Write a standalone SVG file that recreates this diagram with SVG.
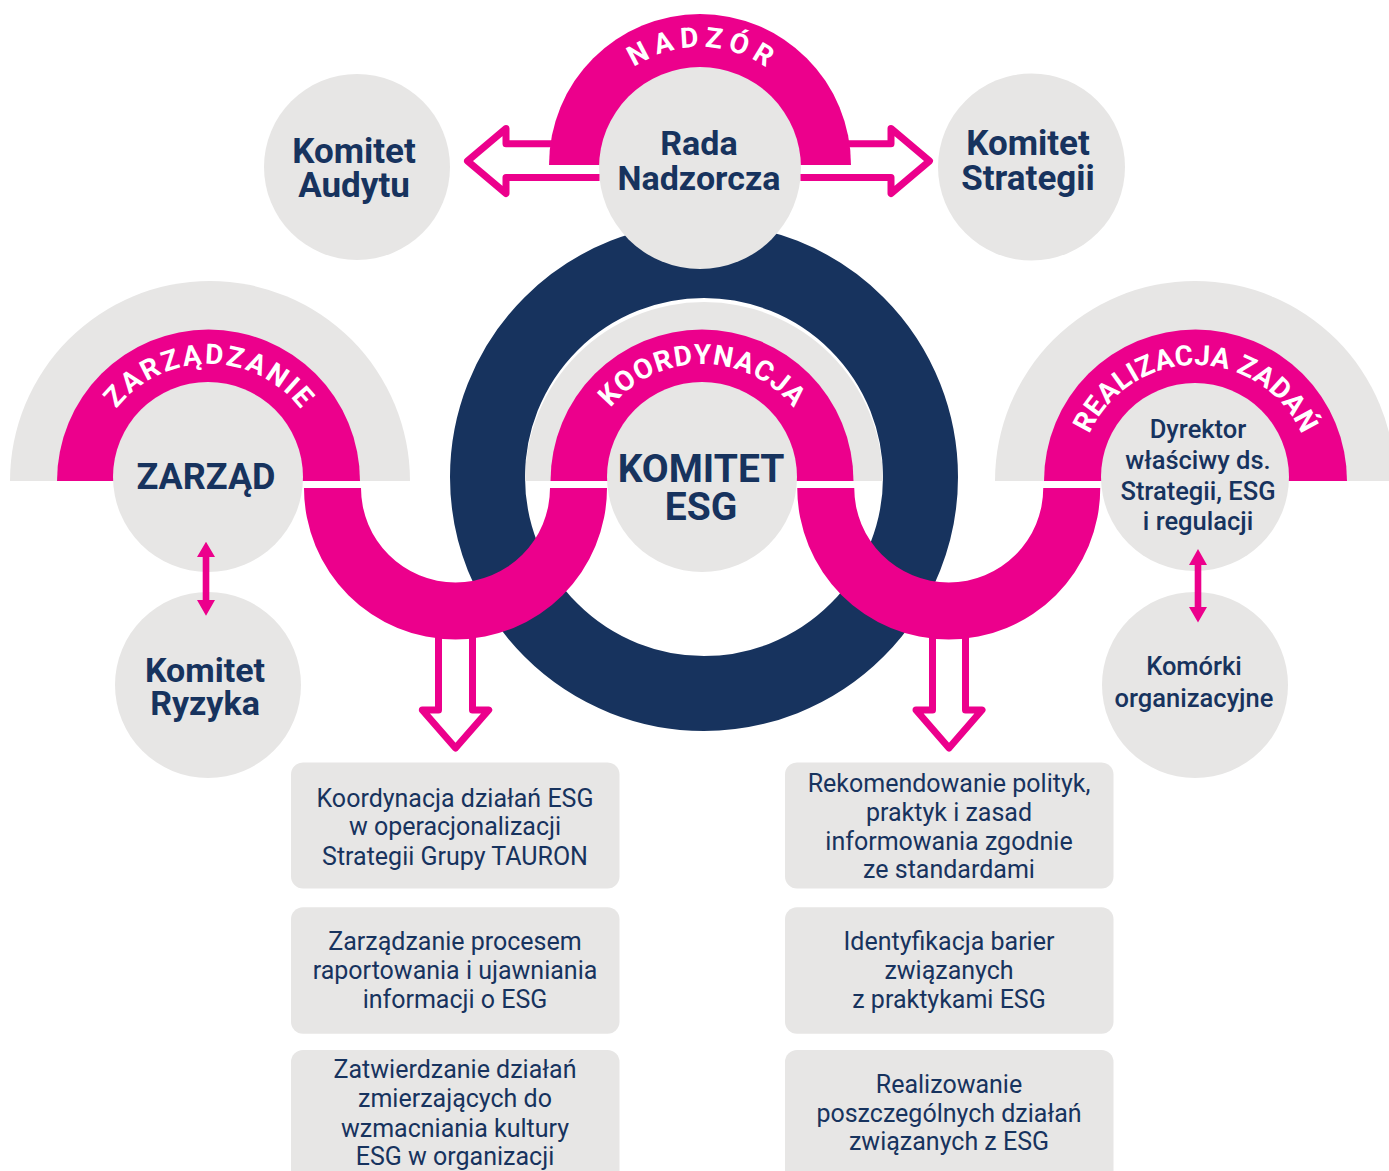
<svg xmlns="http://www.w3.org/2000/svg" width="1389" height="1171" viewBox="0 0 1389 1171">
<defs>
<style>
.gray{fill:#E7E6E5}
.mag{fill:#EC008C}
.outline{fill:none;stroke:#EC008C;stroke-width:7;stroke-linejoin:round;stroke-linecap:butt}
.arc{font-family:Roboto,"Liberation Sans",sans-serif;font-weight:700;font-size:28px;fill:#FFFFFF}
.big{font-family:Roboto,"Liberation Sans",sans-serif;font-weight:700;fill:#17335E;text-anchor:middle}
.med{font-family:Roboto,"Liberation Sans",sans-serif;font-weight:500;font-size:25.5px;fill:#17335E;text-anchor:middle}
.box{font-family:Roboto,"Liberation Sans",sans-serif;font-weight:400;font-size:25px;fill:#17335E;text-anchor:middle}
</style>
<path id="pNadzor" d="M 582,165 A 118 118 0 0 1 818,165"/>
<path id="pZarz" d="M 91.5,481 A 117 117 0 0 1 325.5,481"/>
<path id="pKoord" d="M 585,481 A 117 117 0 0 1 819,481"/>
<path id="pReal" d="M 1079.5,481 A 116 116 0 0 1 1311.5,481"/>
</defs>
<rect width="1389" height="1171" fill="#FFFFFF"/>

<g id="backgrounds">
<path class="gray" d="M 10,481 A 200 200 0 0 1 410,481 Z"/>
<path class="gray" d="M 995,481 A 200 200 0 0 1 1395,481 Z"/>
<circle cx="704" cy="477" r="216.5" fill="none" stroke="#17335E" stroke-width="75"/>
<path class="gray" d="M 525,481 A 179 179 0 0 1 883,481 Z"/>
</g>

<g id="bands">
<path class="mag" d="M 549,165 A 151 151 0 0 1 851,165 Z"/>
<path class="mag" d="M 57,481 A 151.5 151.5 0 0 1 360,481 Z"/>
<path class="mag" d="M 550.5,481 A 151.5 151.5 0 0 1 853.5,481 Z"/>
<path class="mag" d="M 1044,481 A 151.5 151.5 0 0 1 1347,481 Z"/>
<path class="mag" d="M 304,488 A 151.5 151.5 0 0 0 607,488 L 550,488 A 94.5 94.5 0 0 1 361,488 Z"/>
<path class="mag" d="M 797.25,488 A 151.5 151.5 0 0 0 1100.25,488 L 1043.25,488 A 94.5 94.5 0 0 1 854.25,488 Z"/>
<text class="arc" letter-spacing="6"><textPath href="#pNadzor" startOffset="188.4" text-anchor="middle">NADZÓR</textPath></text>
<text class="arc" letter-spacing="2.5"><textPath href="#pZarz" startOffset="185" text-anchor="middle">ZARZĄDZANIE</textPath></text>
<text class="arc" letter-spacing="1"><textPath href="#pKoord" startOffset="184.3" text-anchor="middle">KOORDYNACJA</textPath></text>
<text class="arc" letter-spacing="0.3"><textPath href="#pReal" startOffset="182.4" text-anchor="middle">REALIZACJA ZADAŃ</textPath></text>
</g>

<g id="rada">
<circle class="gray" cx="700" cy="168" r="101"/>
<text class="big" font-size="34"><tspan x="699" y="155">Rada</tspan><tspan x="699" y="190">Nadzorcza</tspan></text>
</g>
<g id="audytu">
<circle class="gray" cx="357" cy="167" r="93"/>
<text class="big" font-size="35"><tspan x="354" y="163">Komitet</tspan><tspan x="354" y="197">Audytu</tspan></text>
</g>
<g id="strategii">
<circle class="gray" cx="1031.5" cy="167" r="93.5"/>
<text class="big" font-size="35"><tspan x="1028" y="155">Komitet</tspan><tspan x="1028" y="190">Strategii</tspan></text>
</g>
<g id="zarzad">
<circle class="gray" cx="208" cy="477" r="95"/>
<text class="big" font-size="36" x="206" y="489">ZARZĄD</text>
</g>
<g id="komitet-esg">
<circle class="gray" cx="702" cy="477" r="95"/>
<text class="big" font-size="39"><tspan x="701" y="481.5">KOMITET</tspan><tspan x="701" y="520">ESG</tspan></text>
</g>
<g id="dyrektor">
<circle class="gray" cx="1195" cy="477" r="94"/>
<text class="med"><tspan x="1198" y="438">Dyrektor</tspan><tspan x="1198" y="469">właściwy ds.</tspan><tspan x="1198" y="500">Strategii, ESG</tspan><tspan x="1198" y="530">i regulacji</tspan></text>
</g>
<g id="ryzyka">
<circle class="gray" cx="208" cy="685" r="93"/>
<text class="big" font-size="34"><tspan x="205" y="681.7">Komitet</tspan><tspan x="205" y="715">Ryzyka</tspan></text>
</g>
<g id="komorki">
<circle class="gray" cx="1195" cy="685" r="93"/>
<text class="med"><tspan x="1194" y="675">Komórki</tspan><tspan x="1194" y="706.7">organizacyjne</tspan></text>
</g>

<g id="box-l1">
<rect class="gray" x="291" y="762.5" width="328.5" height="126" rx="12"/>
<text class="box"><tspan x="455" y="806.7">Koordynacja działań ESG</tspan><tspan x="455" y="835">w operacjonalizacji</tspan><tspan x="455" y="865">Strategii Grupy TAURON</tspan></text>
</g>
<g id="box-l2">
<rect class="gray" x="291" y="907.3" width="328.5" height="126.5" rx="12"/>
<text class="box"><tspan x="455" y="950">Zarządzanie procesem</tspan><tspan x="455" y="979.3">raportowania i ujawniania</tspan><tspan x="455" y="1007.7">informacji o ESG</tspan></text>
</g>
<g id="box-l3">
<rect class="gray" x="291" y="1050" width="328.5" height="140" rx="12"/>
<text class="box"><tspan x="455" y="1078.3">Zatwierdzanie działań</tspan><tspan x="455" y="1107.3">zmierzających do</tspan><tspan x="455" y="1136.7">wzmacniania kultury</tspan><tspan x="455" y="1165">ESG w organizacji</tspan></text>
</g>
<g id="box-r1">
<rect class="gray" x="785" y="762.5" width="328.5" height="126" rx="12"/>
<text class="box"><tspan x="949" y="791.7">Rekomendowanie polityk,</tspan><tspan x="949" y="820.7">praktyk i zasad</tspan><tspan x="949" y="850">informowania zgodnie</tspan><tspan x="949" y="878.3">ze standardami</tspan></text>
</g>
<g id="box-r2">
<rect class="gray" x="785" y="907.3" width="328.5" height="126.5" rx="12"/>
<text class="box"><tspan x="949" y="950">Identyfikacja barier</tspan><tspan x="949" y="979.3">związanych</tspan><tspan x="949" y="1007.7">z praktykami ESG</tspan></text>
</g>
<g id="box-r3">
<rect class="gray" x="785" y="1050" width="328.5" height="140" rx="12"/>
<text class="box"><tspan x="949" y="1093.3">Realizowanie</tspan><tspan x="949" y="1121.7">poszczególnych działań</tspan><tspan x="949" y="1150">związanych z ESG</tspan></text>
</g>

<g id="connectors">
<path class="outline" d="M 553,143.7 L 506,143.7 L 506,128.5 L 467.5,161 L 506,193.5 L 506,177.5 L 599.5,177.5"/>
<path class="outline" d="M 847,143.7 L 891,143.7 L 891,128.5 L 929.5,161 L 891,193.5 L 891,177.5 L 800.5,177.5"/>
<path class="outline" d="M 438.5,633 L 438.5,710 L 422.3,710 L 455.5,748 L 488.7,710 L 472.5,710 L 472.5,633"/>
<path class="outline" d="M 932.5,633 L 932.5,710 L 916,710 L 949,748 L 982,710 L 965.5,710 L 965.5,633"/>
<polygon class="mag" points="206,541.7 215,557 209.3,557 209.3,600 215,600 206,615.7 197,600 202.7,600 202.7,557 197,557"/>
<polygon class="mag" points="1198,549 1207,565 1201.3,565 1201.3,607 1207,607 1198,622.5 1189,607 1194.7,607 1194.7,565 1189,565"/>
</g>
</svg>
